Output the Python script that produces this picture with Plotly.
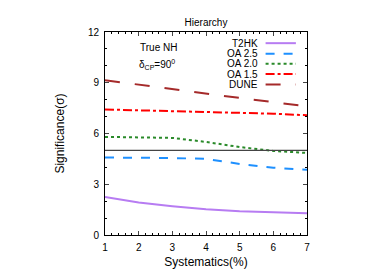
import plotly.graph_objects as go

systematics = [1, 2, 3, 4, 5, 6, 7]
t2hk = [2.25, 1.92, 1.7, 1.52, 1.4, 1.33, 1.28]
oa25 = [4.58, 4.57, 4.55, 4.5, 4.2, 3.98, 3.85]
oa20 = [5.8, 5.78, 5.74, 5.5, 5.2, 4.97, 4.85]
oa15 = [7.42, 7.38, 7.32, 7.27, 7.22, 7.17, 7.08]
dune = [9.15, 8.88, 8.62, 8.35, 8.1, 7.85, 7.6]

names = ["T2HK", "OA 2.5", "OA 2.0", "OA 1.5", "DUNE"]
series = [t2hk, oa25, oa20, oa15, dune]
colors = ["#b77cf2", "#1e90ff", "#2a8a2a", "#ff0000", "#a52a2a"]
dashes = ["solid", "dash", "dot", "dashdot", "longdash"]

fig = go.Figure()
for n, s, c, d in zip(names, series, colors, dashes):
    fig.add_trace(go.Scatter(x=systematics, y=s, mode="lines", name=n,
                             line=dict(color=c, width=2, dash=d), showlegend=False))

fig.add_shape(type="line", xref="x", yref="y", x0=1, x1=7, y0=5, y1=5,
              line=dict(color="#444444", width=1.2))

font = dict(family="Liberation Sans, Arial, sans-serif", size=10, color="black")

# legend (text left of sample)
leg_y = [0.945, 0.893, 0.843, 0.793, 0.741]
for n, c, d, yy in zip(names, colors, dashes, leg_y):
    fig.add_annotation(x=0.765, y=yy, xref="paper", yref="paper", text=n,
                       showarrow=False, xanchor="right", yanchor="middle", font=font)
    fig.add_shape(type="line", xref="paper", yref="paper", x0=0.795, x1=0.945,
                  y0=yy, y1=yy, line=dict(color=c, width=2, dash=d))

fig.add_annotation(x=0.265, y=0.925, xref="paper", yref="paper", text="True NH",
                   showarrow=False, xanchor="center", yanchor="middle", font=font)
fig.add_annotation(x=0.255, y=0.84, xref="paper", yref="paper",
                   text="δ<sub>CP</sub>=90<sup>0</sup>",
                   showarrow=False, xanchor="center", yanchor="middle", font=font)

fig.update_layout(
    width=385, height=269,
    margin=dict(l=105, r=78, t=32, b=34, autoexpand=False),
    paper_bgcolor="white", plot_bgcolor="white",
    font=font,
    title=dict(text="Hierarchy", x=0.5, xanchor="center", xref="paper",
               y=0.918, yref="container", yanchor="middle", automargin=False,
               font=dict(size=10)),
    xaxis=dict(range=[1, 7], tickvals=[1, 2, 3, 4, 5, 6, 7], ticks="inside",
               ticklen=4, showgrid=False, zeroline=False, showline=True,
               linecolor="black", linewidth=1, mirror="ticks", automargin=False,
               ticklabelstandoff=3,
               minor=dict(dtick=0.2, ticks="inside", ticklen=2, tickcolor="black"),
               title=dict(text="Systematics(%)", standoff=6), tickfont=dict(size=10)),
    yaxis=dict(range=[0, 12], tickvals=[0, 3, 6, 9, 12], ticks="inside",
               ticklen=4, showgrid=False, zeroline=False, showline=True,
               linecolor="black", linewidth=1, mirror="ticks", automargin=False,
               ticklabelstandoff=3,
               minor=dict(dtick=1, ticks="inside", ticklen=2, tickcolor="black"),
               title=dict(text="Significance(σ)", standoff=20), tickfont=dict(size=10)),
)

fig.write_html("out.html", config={"displayModeBar": False},
               post_script="document.body.style.margin='0';document.body.style.overflow='hidden';")
